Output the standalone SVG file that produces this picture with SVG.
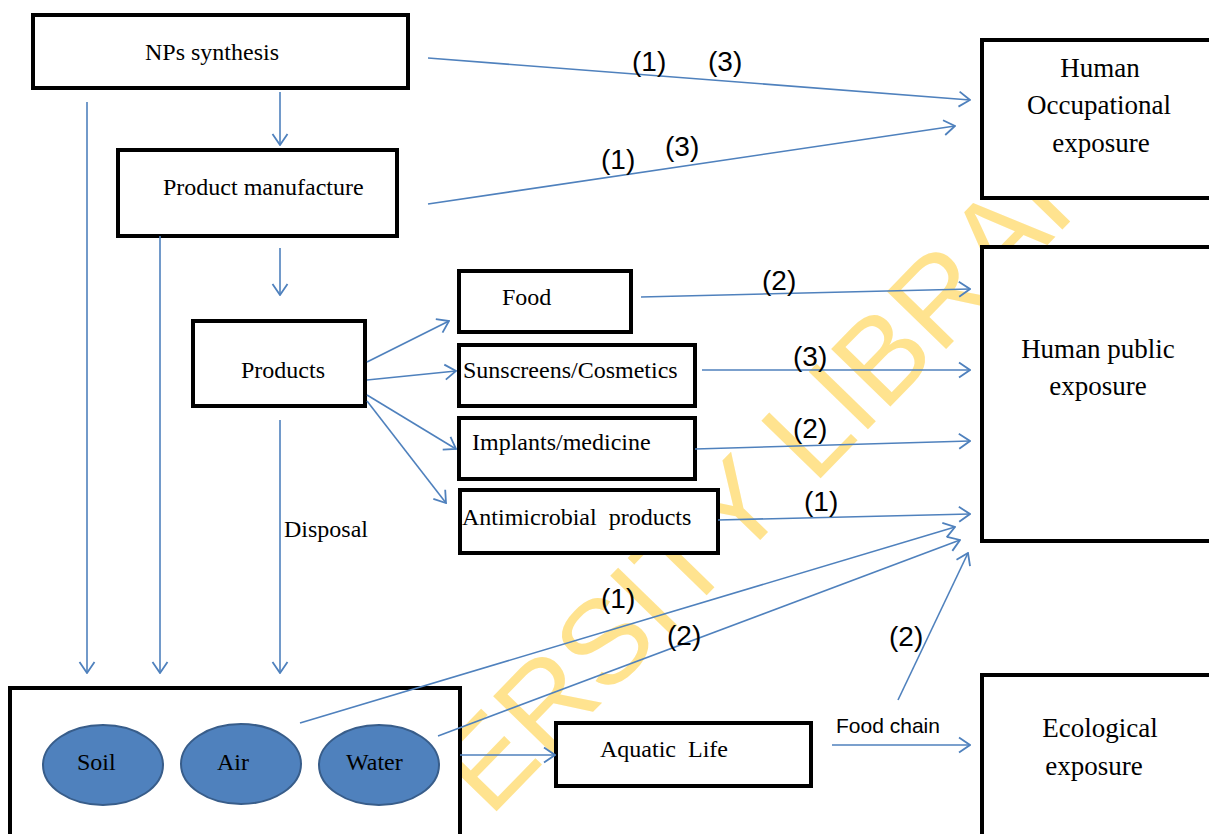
<svg xmlns="http://www.w3.org/2000/svg" width="1209" height="834" viewBox="0 0 1209 834">
<style>
.box{fill:#fff;stroke:#000;stroke-width:4}
.t{font-family:"Liberation Serif","Times New Roman",serif;font-size:24px;fill:#000}
.tb{font-family:"Liberation Serif","Times New Roman",serif;font-size:27px;fill:#000;text-anchor:middle}
.lab{font-family:"Liberation Sans",Arial,sans-serif;font-size:28px;fill:#000}
.c{fill:none;stroke:#4F81BD;stroke-width:1.6;marker-end:url(#ah)}
.ell{fill:#4F81BD;stroke:#385D8A;stroke-width:2}
.wm{font-family:"Liberation Sans",Arial,sans-serif;font-size:120px;fill:#FFE38F}
</style>
<defs>
<marker id="ah" viewBox="-1 -9 13 18" refX="11" refY="0" markerWidth="13" markerHeight="18" markerUnits="userSpaceOnUse" orient="auto">
<path d="M0,-7.5 L11,0 L0,7.5" fill="none" stroke="#4F81BD" stroke-width="1.8"/>
</marker>
</defs>
<rect width="1209" height="834" fill="#fff"/>
<g id="watermark">
<text class="wm" transform="translate(490,818) rotate(-45.8)" x="-287" y="0">UNIVERSITY LIBRARY</text>
</g>
<g id="n-nps"><rect class="box" x="33" y="15" width="375" height="73"/><text class="t" x="145" y="60">NPs synthesis</text></g>
<g id="n-pm"><rect class="box" x="118" y="150" width="279" height="86"/><text class="t" x="163" y="195">Product manufacture</text></g>
<g id="n-products"><rect class="box" x="193" y="321" width="172" height="85"/><text class="t" x="241" y="378">Products</text></g>
<g id="n-food"><rect class="box" x="459" y="271" width="172" height="61"/><text class="t" x="502" y="305">Food</text></g>
<g id="n-sun"><rect class="box" x="459" y="345" width="236" height="61"/><text class="t" x="463" y="378">Sunscreens/Cosmetics</text></g>
<g id="n-imp"><rect class="box" x="459" y="418" width="236" height="61"/><text class="t" x="472" y="450">Implants/medicine</text></g>
<g id="n-anti"><rect class="box" x="460" y="490" width="258" height="63"/><text class="t" x="462" y="525" xml:space="preserve">Antimicrobial  products</text></g>
<g id="n-occ"><rect class="box" x="982" y="40" width="250" height="158"/><text class="tb" x="1100" y="77">Human</text><text class="tb" x="1099" y="114">Occupational</text><text class="tb" x="1101" y="152">exposure</text></g>
<g id="n-pub"><rect class="box" x="982" y="247" width="250" height="294"/><text class="tb" x="1098" y="358">Human public</text><text class="tb" x="1098" y="395">exposure</text></g>
<g id="n-eco"><rect class="box" x="982" y="675" width="250" height="180"/><text class="tb" x="1100" y="737">Ecological</text><text class="tb" x="1094" y="775">exposure</text></g>
<g id="n-env"><rect class="box" x="10" y="688" width="450" height="170"/>
<ellipse class="ell" cx="103" cy="765" rx="60" ry="40"/><ellipse class="ell" cx="241" cy="764" rx="60" ry="40"/><ellipse class="ell" cx="379" cy="765" rx="60" ry="40"/>
<text class="t" x="77" y="770">Soil</text><text class="t" x="217" y="770">Air</text><text class="t" x="346" y="770">Water</text></g>
<g id="n-aqua"><rect class="box" x="556" y="723" width="255" height="63"/><text class="t" x="600" y="757" xml:space="preserve">Aquatic  Life</text></g>
<g id="connectors">
<path class="c" d="M428,58 L970,100"/>
<path class="c" d="M428,204 L955,126"/>
<path class="c" d="M280,92 L280,145"/>
<path class="c" d="M87,102 L87,673"/>
<path class="c" d="M160,236 L160,673"/>
<path class="c" d="M280,248 L280,295"/>
<path class="c" d="M280,420 L280,673"/>
<path class="c" d="M367,362 L449,321"/>
<path class="c" d="M367,380 L456,371"/>
<path class="c" d="M367,395 L456,449"/>
<path class="c" d="M367,401 L446,503"/>
<path class="c" d="M641,297 L970,289"/>
<path class="c" d="M702,370 L970,370"/>
<path class="c" d="M695,449 L970,441"/>
<path class="c" d="M718,520 L970,514"/>
<path class="c" d="M300,723 L955,527"/>
<path class="c" d="M438,736 L960,540"/>
<path class="c" d="M898,700 L968,553"/>
<path class="c" d="M460,755 L555,755"/>
<path class="c" d="M832,745 L970,745"/>
<text class="lab" x="632" y="71">(1)</text>
<text class="lab" x="708" y="71">(3)</text>
<text class="lab" x="601" y="169">(1)</text>
<text class="lab" x="665" y="156">(3)</text>
<text class="lab" x="762" y="290">(2)</text>
<text class="lab" x="793" y="366">(3)</text>
<text class="lab" x="793" y="438">(2)</text>
<text class="lab" x="804" y="511">(1)</text>
<text class="lab" x="601" y="608">(1)</text>
<text class="lab" x="667" y="645">(2)</text>
<text class="lab" x="889" y="646">(2)</text>
<text class="t" x="284" y="537">Disposal</text>
<text class="lab" x="836" y="733" style="font-size:21px">Food chain</text>
</g>
</svg>
